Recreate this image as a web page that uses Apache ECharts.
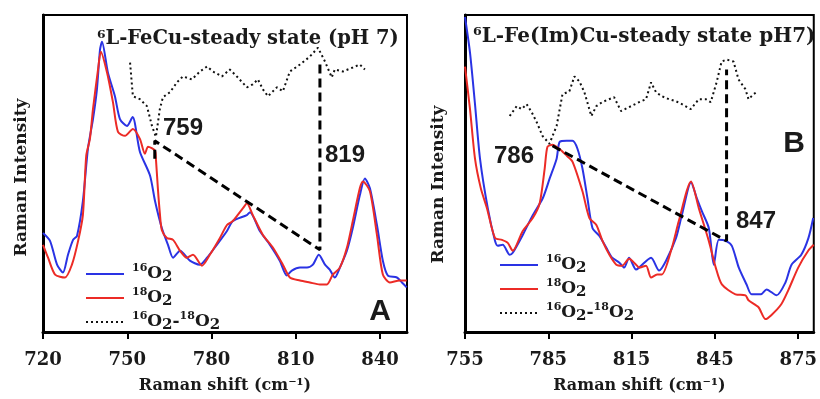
<!DOCTYPE html>
<html>
<head>
<meta charset="utf-8">
<script src="https://cdn.jsdelivr.net/npm/echarts@6/dist/echarts.min.js"></script>
<style>
html,body{margin:0;padding:0;background:#fff;}
#main{width:820px;height:399px;}
</style>
</head>
<body>
<div id="main"></div>
<script>
// ---------- DATA ----------
const xTicksA = [720, 750, 780, 810, 840];
const xTicksB = [755, 785, 815, 845, 875];

// Panel A: 6L-FeCu steady state (pH 7)
const blueA = [[720.0,100],[722.5,92],[725.0,68],[727.1,60],[728.9,78],[730.7,93],[732.1,97],[734.2,132],[736.0,185],[737.8,215],[739.2,245],[740.3,285],[741.0,293],[743.1,262],[745.6,238],[747.4,215],[749.9,208],[751.9,217],[754.5,182],[758.1,158],[759.9,132],[762.3,105],[764.5,88],[766.3,75],[768.8,82],[772.3,72],[775.8,68],[778.4,75],[781.9,88],[785.5,102],[787.6,112],[792.6,118],[793.7,121],[797.2,102],[800.8,88],[804.3,72],[806.8,57],[808.6,62],[811.5,65],[814.0,65],[816.1,68],[818.2,78],[820.4,68],[822.1,63],[823.9,55],[825.7,65],[828.2,82],[830.3,105],[832.8,138],[834.6,155],[836.4,145],[838.9,108],[841.0,72],[842.8,57],[846.0,55],[847.8,50],[849.5,45]];
const redA = [[720.0,88],[721.8,75],[724.3,58],[727.8,55],[730.3,68],[732.5,92],[734.2,118],[735.4,178],[736.7,195],[737.8,225],[739.6,265],[740.6,283],[742.8,262],[744.9,232],[746.7,202],[749.2,198],[752.0,205],[754.5,195],[756.3,180],[757.4,187],[759.9,183],[760.2,175],[760.9,145],[761.6,120],[762.3,103],[764.1,95],[766.3,93],[768.8,82],[771.2,75],[773.4,78],[776.6,67],[779.4,78],[783.0,95],[785.5,108],[787.6,112],[791.2,125],[792.6,130],[794.7,118],[798.3,98],[801.9,85],[805.4,68],[807.9,55],[811.5,52],[815.0,50],[818.6,48],[821.1,48],[823.2,58],[825.7,65],[828.2,85],[830.3,112],[832.8,145],[833.9,152],[836.4,142],[838.9,98],[841.0,58],[843.5,50],[847.0,52],[849.5,52]];
const diffA = [[751.0,272],[752.0,238],[754.5,235],[757.0,228],[758.8,208],[760.2,197],[761.6,225],[762.7,237],[765.2,242],[767.7,252],[769.8,258],[773.0,255],[775.9,263],[778.4,268],[780.5,263],[783.7,258],[786.5,265],[789.0,258],[792.6,247],[794.7,250],[796.5,255],[798.3,245],[800.1,238],[803.3,247],[805.4,243],[807.9,263],[811.5,270],[815.0,278],[817.9,287],[820.4,273],[822.8,257],[823.9,265],[826.8,263],[830.3,267],[832.8,270],[834.6,265]];
const guideA = [[759.8,175],[759.8,193],[818.6,83],[818.6,270]];

// Panel B: 6L-Fe(Im)Cu steady state pH7
const blueB = [[755.0,318],[756.8,282],[758.6,230],[760.4,175],[763.2,125],[765.8,92],[766.8,87],[768.6,88],[771.1,78],[772.2,80],[775.8,98],[779.4,118],[783.0,135],[785.5,155],[788.0,175],[789.1,192],[791.6,193],[793.7,193],[795.5,185],[797.3,165],[799.1,135],[800.9,105],[803.4,97],[805.9,85],[808.0,75],[810.6,70],[812.3,65],[814.1,75],[816.6,63],[817.7,65],[822.0,75],[824.9,62],[827.4,72],[831.0,95],[833.1,118],[836.4,151],[838.5,135],[840.3,122],[842.8,105],[844.6,68],[846.4,93],[848.9,92],[851.1,87],[853.6,65],[856.4,48],[858.2,38],[861.5,38],[863.6,43],[867.2,37],[870.4,50],[872.6,68],[876.1,78],[878.7,95],[880.4,115]];
const redB = [[755.0,268],[756.8,225],[758.6,175],[760.7,145],[762.9,125],[765.8,95],[768.3,93],[770.4,90],[772.2,82],[775.8,102],[779.4,115],[781.9,130],[783.7,165],[784.7,187],[786.5,189],[788.0,187],[789.8,183],[791.6,178],[793.7,172],[797.3,142],[799.8,115],[802.3,108],[804.5,92],[807.0,78],[809.5,68],[811.6,67],[814.1,74],[816.6,68],[817.7,65],[820.2,67],[822.0,55],[824.2,58],[825.9,58],[829.5,85],[832.0,112],[836.4,152],[839.2,125],[842.8,92],[845.3,65],[847.5,48],[852.4,38],[856.0,37],[857.1,32],[860.7,25],[863.2,13],[865.3,17],[868.9,28],[871.4,42],[875.0,65],[878.6,82],[880.6,88]];
const diffB = [[771.1,218],[773.6,228],[775.4,225],[777.2,230],[779.0,222],[780.8,212],[782.9,198],[785.4,190],[788.0,208],[790.1,240],[792.6,243],[794.4,258],[796.2,253],[798.0,242],[800.5,218],[802.3,228],[804.4,232],[806.9,235],[808.7,237],[811.2,223],[814.1,227],[817.7,232],[820.2,235],[822.0,252],[823.8,242],[825.9,238],[828.4,235],[830.9,233],[833.1,230],[836.3,225],[839.2,235],[841.7,235],[843.5,232],[845.6,252],[847.4,273],[849.2,275],[851.7,273],[853.5,255],[856.0,245],[857.1,235],[858.9,240],[859.9,242]];
const guideB = [[786.5,188],[849.2,92],[849.2,265]];

const seriesNames = ['16O2', '18O2', '16O2-18O2'];
const peakLabelsA = ['759', '819'];
const peakLabelsB = ['786', '847'];
const titleA = '⁶L-FeCu-steady state (pH 7)';
const titleB = '⁶L-Fe(Im)Cu-steady state pH7)';

// ---------- STYLE ----------
const SERIF = '"DejaVu Serif", serif';
const SANS = '"Liberation Sans", Arial, sans-serif';
const BLUE = '#2a33e4';
const RED = '#ec2b26';
const INK = '#1a1a1a';

const legendRich = {
  s: {fontFamily: SERIF, fontWeight: 'bold', fontSize: 11, color: INK, verticalAlign: 'top', lineHeight: 22},
  o: {fontFamily: SERIF, fontWeight: 'bold', fontSize: 17, color: INK, lineHeight: 22},
  b: {fontFamily: SERIF, fontWeight: 'bold', fontSize: 15, color: INK, verticalAlign: 'bottom', lineHeight: 22}
};
function legendFmt(name) {
  if (name === seriesNames[0]) return '{s|16}{o|O}{b|2}';
  if (name === seriesNames[1]) return '{s|18}{o|O}{b|2}';
  return '{s|16}{o|O}{b|2}{o|-}{s|18}{o|O}{b|2}';
}

function xAxisFor(idx, min, max, ticks) {
  return {
    type: 'value', gridIndex: idx, min: min, max: max,
    name: 'Raman shift (cm⁻¹)', nameLocation: 'middle', nameGap: 46,
    nameTextStyle: {fontFamily: SERIF, fontWeight: 'bold', fontSize: 16, color: INK},
    axisLine: {show: true, onZero: false, lineStyle: {color: '#000', width: 3}},
    axisTick: {show: true, customValues: ticks, length: 7, lineStyle: {color: '#000', width: 2}},
    axisLabel: {show: true, customValues: ticks, margin: 19, fontFamily: SERIF, fontWeight: 'bold', fontSize: 18, color: INK},
    splitLine: {show: false}
  };
}
function yAxisFor(idx, gap, pad) {
  return {
    type: 'value', gridIndex: idx, min: 0, max: 320,
    name: 'Raman Intensity', nameLocation: 'middle', nameGap: gap, nameRotate: 90,
    nameTextStyle: {fontFamily: SERIF, fontWeight: 'bold', fontSize: 17, color: INK, padding: [0, pad, 0, 0]},
    axisLine: {show: true, lineStyle: {color: '#000', width: 3}},
    axisTick: {show: false}, axisLabel: {show: false}, splitLine: {show: false}
  };
}
function lineSeries(name, data, xi, color, width, type, smooth) {
  return {
    name: name, type: 'line', xAxisIndex: xi, yAxisIndex: xi, data: data,
    symbol: 'none', smooth: smooth, clip: true, animation: false,
    lineStyle: {color: color, width: width, type: type},
    itemStyle: {color: color}
  };
}
function legendFor(left, top) {
  return {
    left: left, top: top, orient: 'vertical', itemWidth: 38, itemHeight: 14, itemGap: 2,
    data: seriesNames, formatter: legendFmt, selectedMode: false,
    itemStyle: {opacity: 0},
    textStyle: {rich: legendRich, padding: [0, 0, 0, 3]}
  };
}

const chart = echarts.init(document.getElementById('main'), null, {renderer: 'canvas'});
const option = {
  backgroundColor: '#fff',
  animation: false,
  grid: [
    {left: 43, top: 15, width: 364, height: 320, show: true, borderColor: '#000', borderWidth: 2, backgroundColor: 'transparent'},
    {left: 465, top: 15, width: 351, height: 320, show: true, borderColor: '#000', borderWidth: 2, backgroundColor: 'transparent'}
  ],
  xAxis: [xAxisFor(0, 720, 849.6, xTicksA), xAxisFor(1, 755, 880.6, xTicksB)],
  yAxis: [yAxisFor(0, 13, 8), yAxisFor(1, 18, 22)],
  title: [
    {text: titleA, left: 92, top: 24, textStyle: {fontFamily: SERIF, fontWeight: 'bold', fontSize: 19.5, color: INK}},
    {text: titleB, left: 468, top: 22, textStyle: {fontFamily: SERIF, fontWeight: 'bold', fontSize: 20, color: INK}}
  ],
  legend: [legendFor(80, 258), legendFor(494, 249)],
  series: [
    lineSeries(seriesNames[0], blueA, 0, BLUE, 2, 'solid', 0.25),
    lineSeries(seriesNames[1], redA, 0, RED, 2, 'solid', 0.25),
    lineSeries(seriesNames[2], diffA, 0, '#111', 2, [2, 3], false),
    lineSeries('guideA', guideA, 0, '#000', 3, [9, 5], false),
    lineSeries(seriesNames[0], blueB, 1, BLUE, 2, 'solid', 0.25),
    lineSeries(seriesNames[1], redB, 1, RED, 2, 'solid', 0.25),
    lineSeries(seriesNames[2], diffB, 1, '#111', 2, [2, 3], false),
    lineSeries('guideB', guideB, 1, '#000', 3, [9, 5], false)
  ],
  graphic: [
    {type: 'text', x: 183, y: 128, style: {text: peakLabelsA[0], font: 'bold 24px ' + SANS, fill: INK, textAlign: 'center', textVerticalAlign: 'middle'}},
    {type: 'text', x: 345, y: 155, style: {text: peakLabelsA[1], font: 'bold 24px ' + SANS, fill: INK, textAlign: 'center', textVerticalAlign: 'middle'}},
    {type: 'text', x: 380, y: 312, style: {text: 'A', font: 'bold 30px ' + SANS, fill: INK, textAlign: 'center', textVerticalAlign: 'middle'}},
    {type: 'text', x: 514, y: 156, style: {text: peakLabelsB[0], font: 'bold 24px ' + SANS, fill: INK, textAlign: 'center', textVerticalAlign: 'middle'}},
    {type: 'text', x: 756, y: 221, style: {text: peakLabelsB[1], font: 'bold 24px ' + SANS, fill: INK, textAlign: 'center', textVerticalAlign: 'middle'}},
    {type: 'text', x: 794, y: 144, style: {text: 'B', font: 'bold 30px ' + SANS, fill: INK, textAlign: 'center', textVerticalAlign: 'middle'}}
  ]
};
chart.setOption(option);
</script>
</body>
</html>
